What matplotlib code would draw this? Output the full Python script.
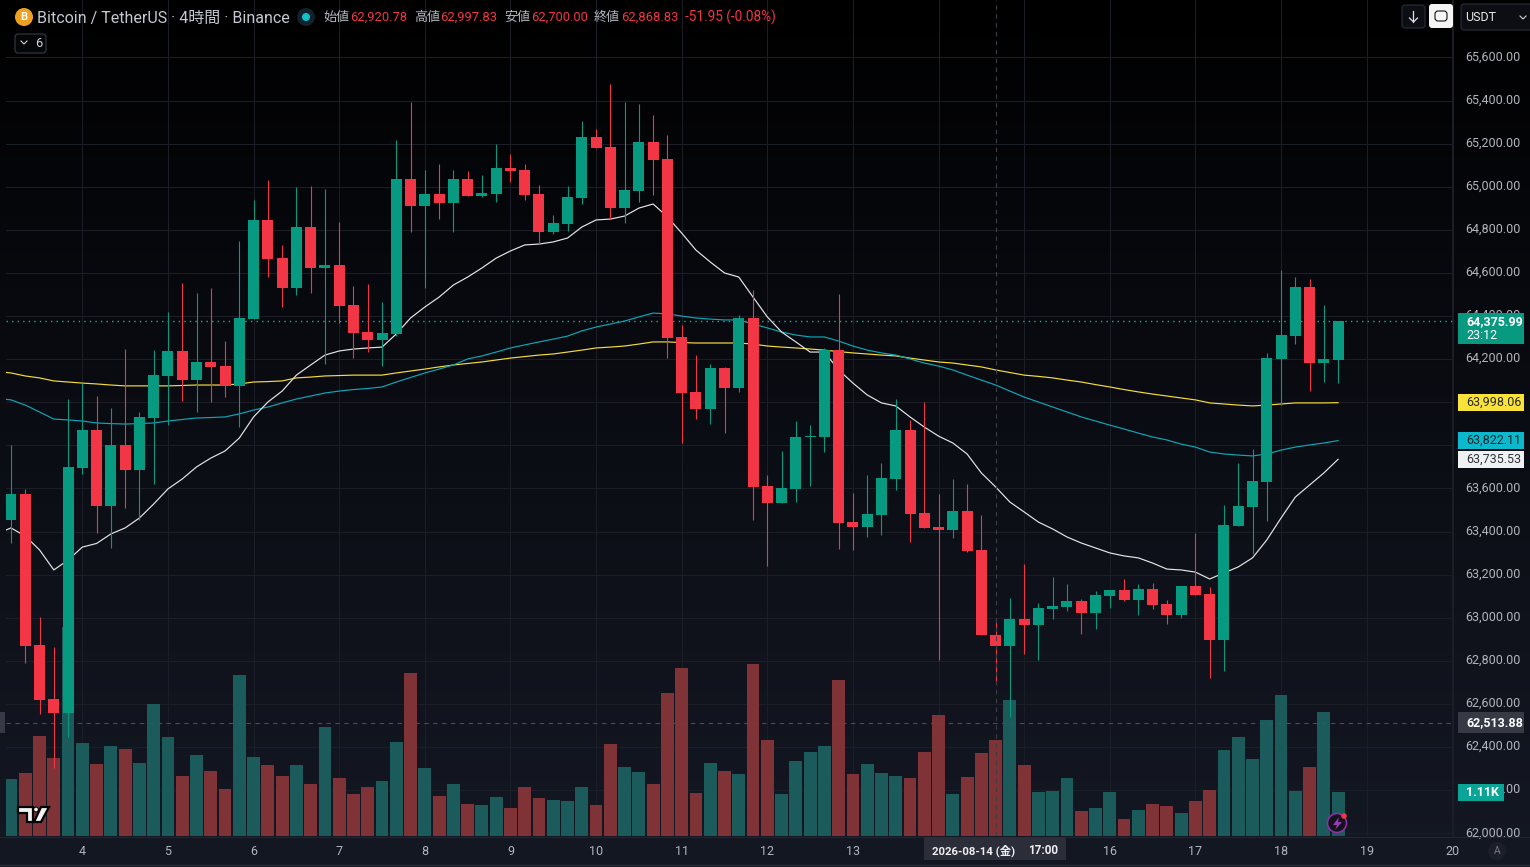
import numpy as np
import matplotlib
matplotlib.use('Agg')
import matplotlib.pyplot as plt
from matplotlib.colors import LinearSegmentedColormap
from matplotlib.patches import Rectangle, FancyBboxPatch, Circle, Polygon
from matplotlib.transforms import ScaledTranslation

plt.rcParams['font.family'] = ['Roboto', 'Noto Sans CJK JP', 'DejaVu Sans']

# 4h candles
opens = [63454,63574,62874,62623,62558,63695,63871,63519,63802,63686,63927,64122,64238,64103,64187,64168,64076,64386,64846,64669,64530,64813,64623,64637,64451,64326,64289,64317,65036,64911,64966,64925,65036,64957,64966,65087,65078,64966,64790,64827,64948,65231,65184,64901,64980,65208,65129,64303,64048,63969,64159,64066,64391,63611,63533,63598,63839,63839,64242,63444,63421,63477,63644,63871,63486,63421,63407,63495,63314,62920.78,62869,62994,62966,63041,63050,63078,63022,63101,63129,63082,63134,63064,63013,63147,63110,62897,63426,63514,63630,64201,64307,64535,64182,64196]
closes = [63574,62869,62618,62558,63700,63871,63519,63802,63686,63932,64126,64238,64103,64187,64164,64076,64391,64846,64665,64530,64813,64623,64637,64447,64321,64289,64321,65036,64911,64966,64925,65036,64957,64971,65087,65073,64962,64790,64832,64952,65231,65180,64901,64985,65208,65124,64298,64043,63969,64159,64066,64391,63607,63533,63602,63839,63843,64242,63440,63421,63482,63649,63871,63482,63417,63407,63495,63310,62920,62868.83,62994,62966,63045,63055,63078,63022,63106,63129,63082,63134,63059,63013,63147,63106,62897,63431,63519,63635,64205,64312,64535,64182,64201,64375.99]
highs = [63802,63598,63004,62864,64017,64089,64029,63973,64247,63955,64242,64419,64553,64507,64530,64284,64748,64938,65031,64730,64999,65003,64990,64836,64539,64549,64465,65217,65393,65078,65106,65078,65073,65054,65198,65152,65106,65008,64869,65003,65305,65268,65477,65393,65384,65333,65240,64358,64219,64178,64164,64405,64521,63662,63774,63913,63894,64252,64502,63579,63662,63718,64015,63918,64001,63574,63644,63621,63477,62997.83,63092,63249,63069,63189,63157,63087,63124,63129,63180,63157,63161,63082,63147,63393,63143,63523,63718,63783,64229,64614,64581,64572,64451,64375.99]
lows = [63347,62790,62554,62303,62447,63667,63393,63324,63509,63454,63621,63894,64006,63955,64001,64024,63885,64386,64581,64442,64498,64507,64178,64368,64205,64233,64168,64307,64790,64530,64850,64790,64957,64952,64929,65022,64938,64734,64781,64795,64920,65180,64850,64832,64929,64962,64205,63811,63922,63899,63857,64048,63454,63240,63533,63537,63611,63769,63319,63315,63375,63384,63593,63352,63417,62804,63370,63305,62920,62700.00,62540,62832,62804,62994,63031,62925,62948,63045,63078,63013,63041,62971,62999,63106,62721,62753,63426,63296,63449,63987,64270,64052,64094,64089]
volumes = [1436,1588,2520,1966,5267,2344,1814,2268,2192,1840,3326,2495,1512,2041,1638,1184,4057,1991,1789,1512,1789,1310,2747,1462,1058,1235,1386,2369,4108,1714,1008,1310,806,781,983,706,1235,958,907,882,1235,781,2318,1739,1613,1310,3604,4234,1084,1840,1638,1562,4334,2419,1058,1890,2117,2268,3931,1562,1814,1588,1512,1462,2117,3049,1058,1487,2092,2419,3427,1789,1109,1134,1462,630,706,1109,428,655,806,756,580,882,1159,2167,2495,1940,2923,3553,1134,1739,3125,1110]

# averages carry one bar more on the left, the chart cuts it off at the edge
ma_white = [63389,63417,63379,63315,63222,63268,63328,63345,63389,63417,63463,63528,63598,63644,63700,63741,63774,63834,63932,64001,64052,64126,64173,64219,64238,64247,64252,64256,64317,64391,64442,64488,64544,64581,64623,64669,64702,64730,64734,64744,64762,64813,64846,64850,64864,64901,64920,64860,64785,64706,64651,64600,64581,64488,64396,64326,64280,64233,64233,64150,64089,64034,63997,63983,63932,63885,63843,63811,63760,63672,63607,63537,63491,63444,63412,63375,63347,63324,63301,63287,63278,63254,63226,63222,63212,63180,63208,63236,63278,63361,63463,63560,63616,63672,63735.53]
ma_teal = [64018,64011,63987,63955,63922,63918,63913,63904,63901,63899,63901,63904,63913,63920,63927,63929,63932,63946,63964,63978,63997,64015,64029,64043,64052,64059,64064,64071,64094,64115,64136,64154,64173,64201,64215,64233,64252,64266,64280,64293,64307,64331,64349,64363,64377,64396,64414,64410,64400,64391,64386,64382,64382,64363,64345,64326,64312,64303,64303,64284,64261,64242,64229,64219,64201,64182,64168,64150,64126,64103,64080,64052,64024,64001,63978,63955,63932,63913,63894,63876,63857,63839,63825,63806,63792,63769,63760,63755,63751,63760,63778,63792,63802,63811,63822.11]
ma_yellow = [64143,64136,64122,64113,64099,64094,64089,64085,64080,64076,64076,64076,64076,64078,64080,64080,64080,64085,64094,64096,64099,64113,64117,64122,64124,64126,64126,64126,64136,64145,64154,64164,64173,64180,64187,64196,64205,64212,64219,64224,64233,64242,64252,64256,64261,64270,64280,64280,64277,64275,64275,64275,64275,64270,64261,64256,64252,64247,64242,64235,64229,64224,64219,64215,64205,64196,64187,64182,64173,64164,64150,64138,64126,64120,64113,64103,64094,64082,64071,64059,64048,64038,64029,64020,64011,63997,63992,63987,63983,63987,63992,63997,63997,63997,63998.06]

day_ticks = [5,11,17,23,29,35,41,47,53,59,65,71,77,83,89,95,101]
day_labels = ['4','5','6','7','8','9','10','11','12','13','','','16','17','18','19','20']
price_ticks = [62000,62200,62400,62600,62800,63000,63200,63400,63600,63800,64000,64200,64400,64600,64800,65000,65200,65400,65600]
price_labels = ['62,000.00','62,200.00','62,400.00','62,600.00','62,800.00','63,000.00','63,200.00','63,400.00','63,600.00','','','64,200.00','64,400.00','64,600.00','64,800.00','65,000.00','65,200.00','65,400.00','65,600.00']

UP = '#089981'
DOWN = '#f23645'
W, H = 1530, 867
PLOT_L, PLOT_R, PLOT_B = 6, 1453, 836
Y_TOP, Y_BOT = 65866.5, 61987.5

opens = np.array(opens)
closes = np.array(closes)
highs = np.array(highs)
lows = np.array(lows)
x = np.arange(len(opens))
x_ma = np.arange(-1, len(opens))
up = closes >= opens

fig = plt.figure(figsize=(W / 100, H / 100), dpi=100)

# page gradient, black on top going to dark navy
bg = fig.add_axes([0, 0, 1, 1], zorder=0)
cmap = LinearSegmentedColormap.from_list('bg', ['#000000', '#06070b', '#0b0d14', '#10131c', '#141823'])
bg.imshow(np.linspace(0, 1, 256).reshape(-1, 1), aspect='auto', cmap=cmap, extent=[0, 1, 0, 1], origin='upper')
bg.axis('off')

rect = [PLOT_L / W, (H - PLOT_B) / H, (PLOT_R - PLOT_L) / W, PLOT_B / H]

# grid + volume sit under the candles
ax_vol = fig.add_axes(rect, zorder=1)
ax_vol.patch.set_alpha(0)
ax_vol.set_xlim(-0.35, 101.05)
ax_vol.set_ylim(0, PLOT_B * 25.2)
ax_vol.set_xticks(day_ticks)
ax_vol.set_xticklabels([])
ax_vol.set_yticks([])
ax_vol.tick_params(length=0)
for s in ax_vol.spines.values():
    s.set_visible(False)
for t in day_ticks:
    ax_vol.axvline(t, color='#1b1d27', lw=0.75, zorder=0)

ax = fig.add_axes(rect, zorder=2)
ax.patch.set_alpha(0)
for p in price_ticks:
    ax_vol.axhline((p - Y_BOT) / (Y_TOP - Y_BOT) * PLOT_B * 25.2, color='#1b1d27', lw=0.75, zorder=0)
vol_cols = ['#1c5f5e' if u else '#843539' for u in up]
ax_vol.bar(x, volumes, width=0.9, color=vol_cols, alpha=0.96, zorder=2)

ax.set_xlim(-0.35, 101.05)
ax.set_ylim(Y_BOT, Y_TOP)
ax.plot(x_ma, ma_yellow, color='#f5dc3c', lw=0.85, zorder=2)
ax.plot(x_ma, ma_teal, color='#0fa6b5', lw=0.85, zorder=2)
ax.plot(x_ma, ma_white, color='#e6e6e6', lw=0.85, zorder=2)
ax.axhline(closes[-1], color='#12b59c', lw=1, ls=(0, (1, 3)), zorder=1)
ax.axhline(62513.88, color='#4a4d57', lw=0.8, ls=(0, (4, 4)), zorder=1)
ax.axvline(69, color='#3c3f49', lw=0.8, ls=(0, (4, 4)), zorder=5)

cols = np.where(up, UP, DOWN)
ax.vlines(x, lows, highs, colors=cols, lw=0.8, zorder=3)
ax.bar(x, np.abs(closes - opens), bottom=np.minimum(opens, closes), width=0.77, color=cols, zorder=4)

ax.yaxis.tick_right()
ax.set_yticks(price_ticks)
ax.set_yticklabels(price_labels, color='#b2b5be', fontsize=9)
ax.set_xticks(day_ticks)
ax.set_xticklabels(day_labels, color='#b2b5be', fontsize=9)
ax.tick_params(axis='y', length=0, pad=8.7)
ax.tick_params(axis='x', length=0, pad=6.5)
# the price labels sit a little above their grid lines
up_shift = ScaledTranslation(0, 2 / 72 * 0.72, fig.dpi_scale_trans)
for lab in ax.get_yticklabels():
    lab.set_transform(lab.get_transform() + up_shift)
for s in ax.spines.values():
    s.set_visible(False)

# everything that sits on top, in screen pixels
top = fig.add_axes([0, 0, 1, 1], zorder=5)
top.set_xlim(0, W)
top.set_ylim(H, 0)
top.axis('off')
top.patch.set_alpha(0)


def px(price):
    return (Y_TOP - price) / (Y_TOP - Y_BOT) * PLOT_B


def rbox(x0, y0, w, h, face, edge='none', r=3, z=6):
    top.add_patch(FancyBboxPatch((x0 + r, y0 + r), w - 2 * r, h - 2 * r, boxstyle='round,pad=%d' % r,
                                 fc=face, ec=edge, lw=0.8, zorder=z))


# axis separators
top.plot([PLOT_R, PLOT_R], [0, PLOT_B], color='#1b1d27', lw=0.75, zorder=1)
top.plot([0, W], [PLOT_B + 0.5, PLOT_B + 0.5], color='#23262f', lw=0.75, zorder=1)
top.plot([0, W], [864.5, 864.5], color='#2a2e39', lw=1, zorder=1)
top.add_patch(Rectangle((0, 712), 5, 21, fc='#363a45', ec='none', zorder=6))

# header
top.add_patch(Circle((24, 17), 9, fc='#f0a020', ec='none', zorder=6))
top.text(24, 17, 'B', color='white', fontsize=8, fontweight='bold', ha='center', va='center', zorder=7)
top.text(37, 18, 'Bitcoin / TetherUS · 4時間 · Binance', color='#c5c8d0', fontsize=11.5, va='center', zorder=7)
top.add_patch(Circle((306, 17), 9, fc='#10222c', ec='none', zorder=6))
top.add_patch(Circle((306, 17), 4, fc='#14c0c8', ec='none', zorder=7))
ohlc_labels = ['始値', '高値', '安値', '終値']
ohlc_vals = ['62,920.78', '62,997.83', '62,700.00', '62,868.83']
for lx, vx, lab, val in zip([323, 414, 504, 594], [350, 440, 531, 621], ohlc_labels, ohlc_vals):
    top.text(lx, 17.5, lab, color='#b2b5be', fontsize=9.4, va='center', zorder=7)
    top.text(vx, 17.5, val, color=DOWN, fontsize=9.4, va='center', zorder=7)
top.text(685, 17.5, '-51.95 (-0.08%)', color=DOWN, fontsize=9.8, va='center', zorder=7)

rbox(15, 34, 31, 19, '#050608', '#363a45')
top.plot([21, 24, 27], [41, 44, 41], color='#d1d4dc', lw=0.8, zorder=7)
top.text(38.5, 43.5, '6', color='#d1d4dc', fontsize=9.2, ha='center', va='center', zorder=7)

# top right buttons
rbox(1402, 5, 23, 23, '#0c0e13', '#2a2e39')
top.plot([1413.5, 1413.5], [11, 22], color='#e0e3eb', lw=0.9, zorder=7)
top.plot([1409.5, 1413.5, 1417.5], [18, 22, 18], color='#e0e3eb', lw=0.9, zorder=7)
rbox(1429, 4, 24, 24, '#f5f5f5')
rbox(1435, 11, 12, 10, '#f5f5f5', '#111111', r=3, z=7)
rbox(1461, 4, 72, 26, '#0c0e13', '#2a2e39')
top.text(1465, 17.5, 'USDT', color='#e8e8e8', fontsize=9, va='center', zorder=7)
top.plot([1520, 1523, 1526], [16, 19, 16], color='#d1d4dc', lw=0.8, zorder=7)

# price labels on the right
last_price = closes[-1]
y = px(last_price)
top.add_patch(Rectangle((1458, y - 8), 66, 31, fc=UP, ec='none', zorder=6))
top.text(1466, y, '{:,.2f}'.format(last_price), color='white', fontsize=9, fontweight='bold', va='center', zorder=7)
top.text(1466, y + 14, '23:12', color='white', fontsize=9, va='center', zorder=7)
for val, face, tc in [(ma_yellow[-1], '#f9e33a', '#2a2a20'), (ma_teal[-1], '#0bb8cc', '#10262c'), (ma_white[-1], '#eff1f3', '#303338')]:
    y = px(val)
    top.add_patch(Rectangle((1458, y - 8.5), 66, 17, fc=face, ec='none', zorder=6))
    top.text(1466, y, '{:,.2f}'.format(val), color=tc, fontsize=9, va='center', zorder=7)
y = px(62513.88)
top.add_patch(Rectangle((1458, y - 10.5), 66, 21, fc='#363a45', ec='none', zorder=6))
top.text(1466, y, '62,513.88', color='white', fontsize=9, fontweight='bold', va='center', zorder=7)
top.add_patch(Rectangle((1458, 784), 46, 17, fc='#0aa596', ec='none', zorder=6))
top.text(1466, 792.5, '1.11K', color='white', fontsize=9, fontweight='bold', va='center', zorder=7)

# crosshair date
top.add_patch(Rectangle((924, 837), 142, 23, fc='#2b2e38', ec='none', zorder=6))
top.text(932, 850.5, '2026-08-14 (金)', color='#eceef2', fontsize=8.2, fontweight='bold', va='center', zorder=7)
top.text(1028, 850.5, '17:00', color='#eceef2', fontsize=8.4, fontweight='bold', va='center', zorder=7)

# tradingview logo
logo_parts = [[(18, 807), (33, 807), (33, 822), (27, 822), (27, 813), (18, 813)],
              [(41, 807), (49, 807), (41, 822), (34, 822)]]
for pts in logo_parts:
    top.add_patch(Polygon(pts, fc='#f2f2f2', ec='black', lw=1.6, zorder=6))
top.add_patch(Circle((36, 809.5), 2.4, fc='#f2f2f2', ec='black', lw=0.8, zorder=6))

# lightning button and auto button
top.add_patch(Circle((1337, 823), 9.5, fc='#14121c', ec='#8e2fa8', lw=1.2, zorder=6))
top.add_patch(Polygon([(1339, 817), (1333, 825), (1337, 825), (1335, 830), (1342, 822), (1338, 822)], fc='#9c3ab5', ec='none', zorder=7))
top.add_patch(Circle((1344, 816), 2.8, fc=DOWN, ec='none', zorder=8))
top.add_patch(Circle((1497, 851), 9, fc='#1c1f29', ec='none', zorder=6))
top.text(1497, 851, 'A', color='#787b86', fontsize=7.5, ha='center', va='center', zorder=7)

fig.savefig('out.png', dpi=100)
